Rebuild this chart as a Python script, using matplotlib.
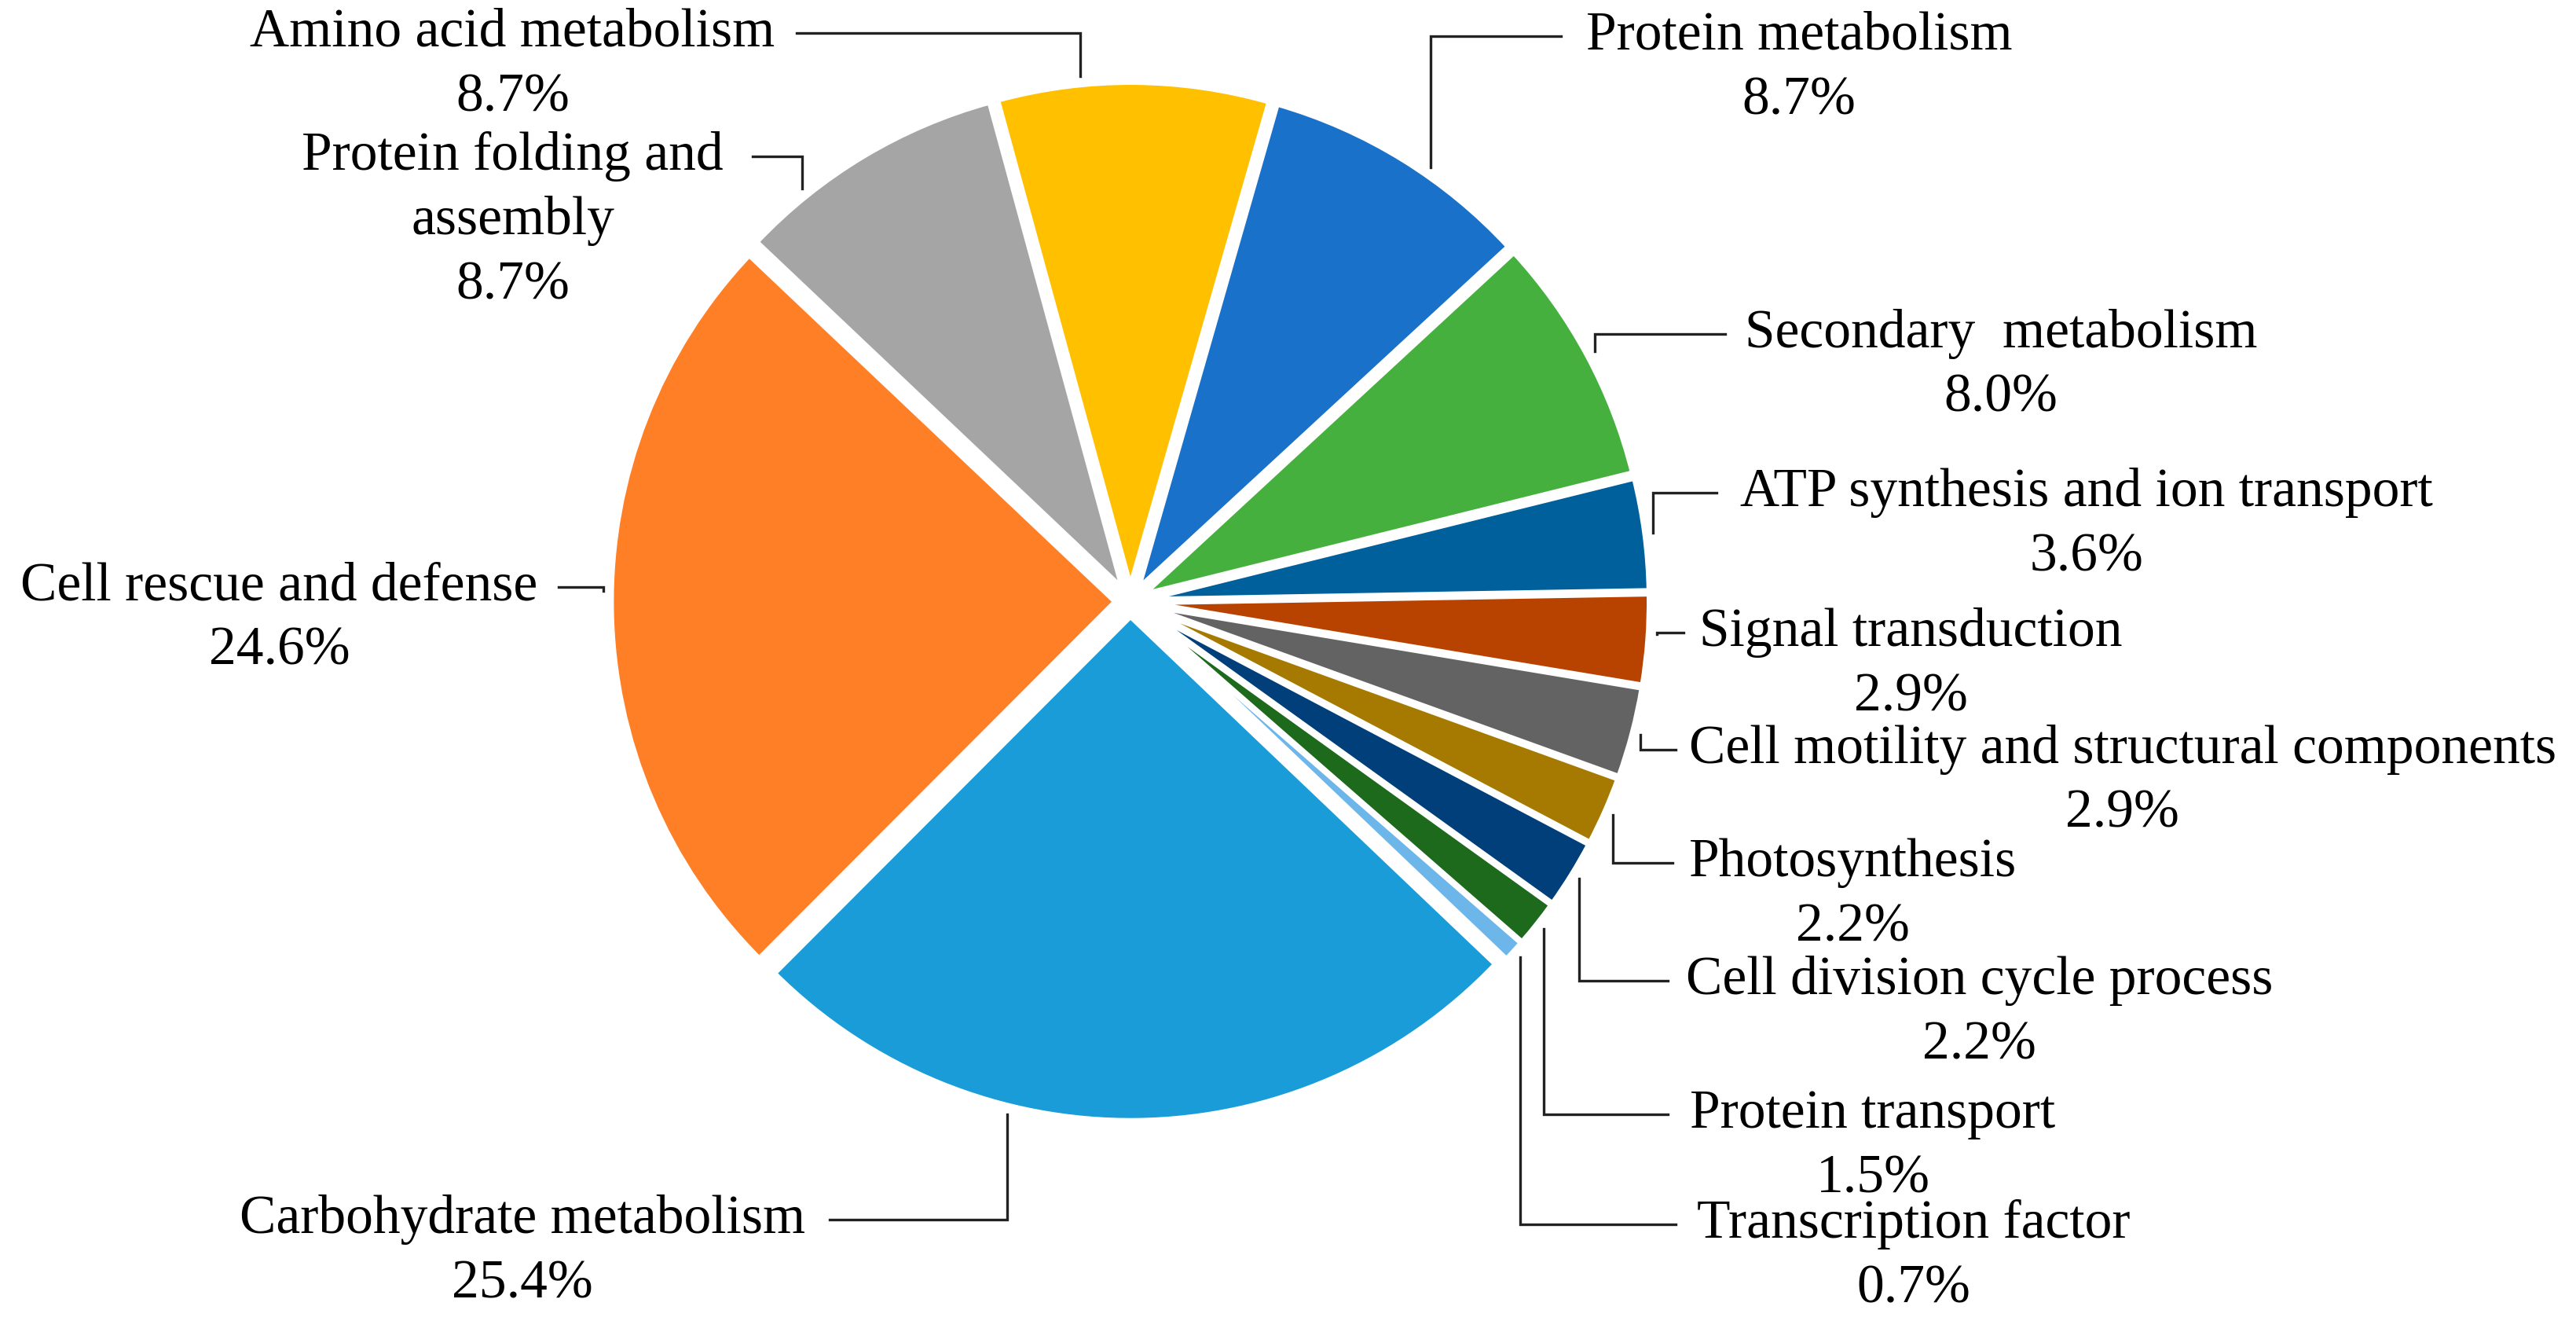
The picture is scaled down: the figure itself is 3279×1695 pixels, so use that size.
import numpy as np
import matplotlib
matplotlib.use("Agg")
import matplotlib.pyplot as plt

# categories, clockwise from the top
categories = ["Protein metabolism", "Secondary  metabolism",
              "ATP synthesis and ion transport", "Signal transduction",
              "Cell motility and structural components", "Photosynthesis",
              "Cell division cycle process", "Protein transport",
              "Transcription factor", "Carbohydrate metabolism",
              "Cell rescue and defense", "Protein folding and\nassembly",
              "Amino acid metabolism"]
percent = [8.7, 8.0, 3.6, 2.9, 2.9, 2.2, 2.2, 1.5, 0.7, 25.4, 24.6, 8.7, 8.7]
colors = ["#1a71c9", "#45b03e", "#00609c", "#b84300", "#636363", "#a67a00",
          "#003f7a", "#1d6a1d", "#6db6ea", "#1a9cd8", "#ff7f27", "#a5a5a5",
          "#ffc000"]

# label layout (image coordinates, y down): text centre x, first line y,
# end of leader line x, where on the wedge the leader starts (0..1)
lab_x = [1095, 1218, 1270, 1163, 1292, 1128, 1205, 1140, 1165, 318, 170, 312, 312]
lab_y = [22, 203, 300, 385, 456, 525, 597, 678, 745, 742, 357, 95, 20]
line_end = [950, 1050, 1045, 1025, 1020, 1018, 1015, 1015, 1020, 505, 340, 458, 485]
attach = [0.6, 0.5, 0.5, 0.43, 0.5, 0.5, 0.5, 0.5, 0.5, 0.66, 0.523, 0.25, 0.31]

W = 1568
H = W * 1695 / 3279
cx, cy, R = 688, 366, 307
start = 74
expl = 9  # offset in data units

plt.rcParams['font.family'] = ['Liberation Serif', 'DejaVu Serif']

fig = plt.figure(figsize=(32.79, 16.95), dpi=100)
ax = fig.add_axes([0, 0, 1, 1])

ax.pie(percent, colors=colors, startangle=start, counterclock=False,
       center=(cx, H - cy), radius=R, explode=[expl] * len(percent),
       wedgeprops=dict(edgecolor="white", linewidth=5))
ax.set_xlim(0, W)
ax.set_ylim(0, H)
ax.set_aspect("equal")
ax.axis("off")

total = sum(percent)
cum = np.concatenate([[0], np.cumsum(percent)])
fs = 50
ls = 39.5
for i, name in enumerate(categories):
    mid = (cum[i] + cum[i + 1]) / 2 / total * 360
    a_mid = np.deg2rad(start - mid)
    a = np.deg2rad(start - (cum[i] + attach[i] * percent[i]) / total * 360)
    sx = cx + expl * np.cos(a_mid) + (R + 5) * np.cos(a)
    sy = cy - expl * np.sin(a_mid) - (R + 5) * np.sin(a)
    ly = lab_y[i]
    ax.plot([sx, sx, line_end[i]], [H - sy, H - ly, H - ly],
            color="#222222", lw=2.4, solid_joinstyle="miter")
    lines = name.split("\n") + [f"{percent[i]:.1f}%"]
    for k, t in enumerate(lines):
        ax.text(lab_x[i], H - (ly + k * ls), t, ha="center", va="center",
                fontsize=fs, color="black")

fig.savefig("out.png", dpi=100, facecolor="white")
